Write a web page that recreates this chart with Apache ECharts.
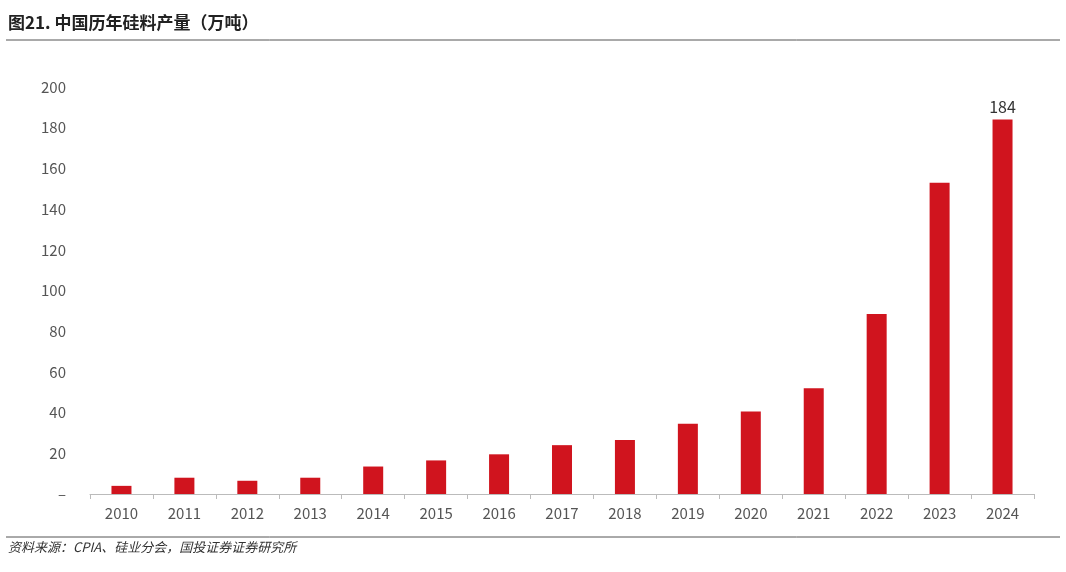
<!DOCTYPE html>
<html><head><meta charset="utf-8">
<script src="https://cdn.jsdelivr.net/npm/echarts@6/dist/echarts.min.js"></script>
<style>body{margin:0;background:#fff}#c{width:1066px;height:572px}</style>
</head><body><div id="c"></div>
<script>
var years=['2010','2011','2012','2013','2014','2015','2016','2017','2018','2019','2020','2021','2022','2023','2024'];
var output=[4,8,6.5,8,13.5,16.5,19.5,24,26.5,34.5,40.5,52,88.5,153,184];
var yTicks=[0,20,40,60,80,100,120,140,160,180,200];

var chart=echarts.init(document.getElementById('c'));
var option={
    animation:false,
    textStyle:{fontFamily:'Noto Sans CJK SC'},
    graphic:[
        {type:'text',left:8,top:14,style:{text:'图21. 中国历年硅料产量（万吨）',font:'bold 17px "Noto Sans CJK SC"',fill:'#222'}},
        {type:'line',shape:{x1:6,y1:40,x2:1060,y2:40},style:{stroke:'#555',lineWidth:1}},
        {type:'line',shape:{x1:6,y1:537,x2:1060,y2:537},style:{stroke:'#555',lineWidth:1}},
        {type:'text',left:8,top:541,style:{text:'资料来源：CPIA、硅业分会，国投证券证券研究所',font:'italic 13px "Noto Sans CJK SC"',fill:'#333'}}
    ],
    grid:{left:90,right:32,top:87,bottom:78},
    xAxis:{
        type:'category',data:years,
        axisLine:{lineStyle:{color:'#bbb'}},
        axisTick:{show:true,lineStyle:{color:'#bbb'}},
        axisLabel:{color:'#555',fontSize:15,margin:12}
    },
    yAxis:{
        type:'value',min:yTicks[0],max:yTicks[yTicks.length-1],interval:20,
        splitLine:{show:false},
        axisLine:{show:false},axisTick:{show:false},
        axisLabel:{color:'#555',fontSize:15,margin:24,formatter:function(v){return v===0?'–':v;}}
    },
    series:[{
        type:'bar',data:output,barWidth:20,
        itemStyle:{color:'#d0141e'},
        label:{show:true,position:'top',color:'#333',fontSize:16,
            formatter:function(p){return p.dataIndex===output.length-1?p.value:'';}}
    }]
};
chart.setOption(option);
</script></body></html>
